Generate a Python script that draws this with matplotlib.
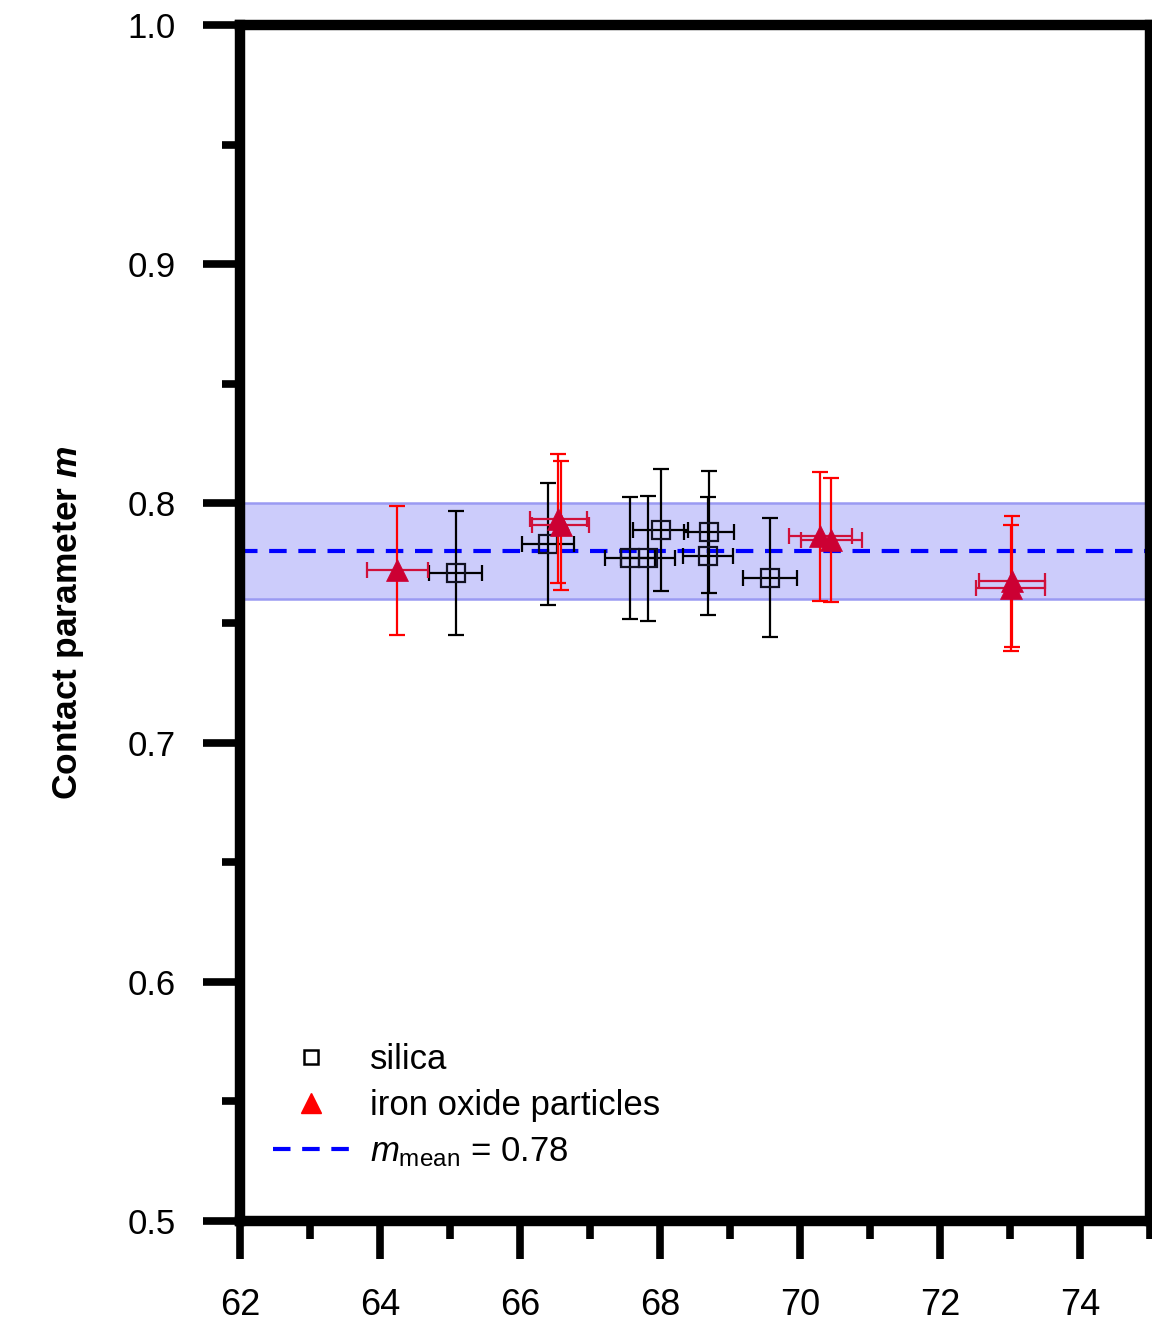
import matplotlib
matplotlib.use("Agg")
import matplotlib.pyplot as plt
from matplotlib.ticker import MultipleLocator, FixedLocator
from matplotlib.lines import Line2D

plt.rcParams['font.family'] = ['Liberation Sans', 'DejaVu Sans']
plt.rcParams['mathtext.fontset'] = 'custom'
plt.rcParams['mathtext.rm'] = 'Liberation Sans'
plt.rcParams['mathtext.it'] = 'Liberation Sans:italic'
plt.rcParams['mathtext.bf'] = 'Liberation Sans:bold'
plt.rcParams['mathtext.bfit'] = 'Liberation Sans:bold:italic'

# ---- data ----
silica_x = [65.08, 66.40, 67.57, 67.83, 68.01, 68.70, 68.69, 69.57]
silica_y = [0.771, 0.783, 0.777, 0.777, 0.789, 0.788, 0.778, 0.769]
silica_xerr = [0.38, 0.37, 0.36, 0.38, 0.39, 0.36, 0.36, 0.39]
silica_yerr = [0.026, 0.0255, 0.0255, 0.026, 0.0255, 0.0255, 0.0245, 0.025]

iron_x = [64.25, 66.55, 66.58, 70.29, 70.45, 73.03, 73.01]
iron_y = [0.772, 0.7936, 0.7908, 0.7862, 0.7848, 0.7674, 0.7646]
iron_xerr = [0.43, 0.41, 0.41, 0.45, 0.44, 0.47, 0.49]
iron_yerr = [0.027, 0.027, 0.027, 0.027, 0.026, 0.0275, 0.0265]

m_mean = 0.78
band_low, band_high = 0.76, 0.80

x_ticks = [62, 64, 66, 68, 70, 72, 74]
y_ticks = [0.5, 0.6, 0.7, 0.8, 0.9, 1.0]

# ---- figure ----
fig = plt.figure(figsize=(11.52, 13.27), dpi=100)
ax = fig.add_axes([0.2083, 0.0799, 0.7899, 0.9013])
ax.set_xlim(62, 75)
ax.set_ylim(0.5, 1.0)

# band
ax.axhspan(band_low, band_high, facecolor='#ccccfb', edgecolor='none', zorder=1)
ax.axhline(band_low, color='#9a9af2', lw=1.8, zorder=1.1)
ax.axhline(band_high, color='#9a9af2', lw=1.8, zorder=1.1)

# mean line
ax.axhline(m_mean, color='#0000ff', lw=3, dashes=(4.2, 2.8), zorder=2)

# silica
ax.errorbar(silica_x, silica_y, xerr=silica_xerr, yerr=silica_yerr, fmt='none',
            ecolor='black', elinewidth=1.6, capsize=6, capthick=1.6, zorder=3)
ax.plot(silica_x, silica_y, ls='none', marker='s', markersize=12.5,
        markerfacecolor='none', markeredgecolor='#111122', markeredgewidth=1.6, zorder=4)

# iron oxide
ax.errorbar(iron_x, iron_y, yerr=iron_yerr, fmt='none',
            ecolor='#ff0000', elinewidth=1.6, capsize=6, capthick=1.6, zorder=5)
ax.errorbar(iron_x, iron_y, xerr=iron_xerr, fmt='none',
            ecolor='#d0103a', elinewidth=1.6, capsize=6, capthick=1.6, zorder=5)
ax.plot(iron_x, iron_y, ls='none', marker='^', markersize=16,
        markerfacecolor='#cc0033', markeredgecolor='#cc0033', markeredgewidth=0.5, zorder=6)

# spines / ticks
for s in ax.spines.values():
    s.set_linewidth(7.5)
ax.xaxis.set_major_locator(FixedLocator(x_ticks))
ax.xaxis.set_minor_locator(MultipleLocator(1))
ax.yaxis.set_major_locator(FixedLocator(y_ticks))
ax.yaxis.set_minor_locator(MultipleLocator(0.05))
ax.tick_params(axis='both', which='major', direction='out', length=27, width=5.5)
ax.tick_params(axis='both', which='minor', direction='out', length=13, width=5.5)
ax.tick_params(top=False, right=False, which='both')
ax.tick_params(axis='x', which='major', labelsize=26, pad=21)
ax.tick_params(axis='y', which='major', labelsize=25, pad=19)
ax.set_xticklabels([str(v) for v in x_ticks])
ax.set_yticklabels(['%.1f' % v for v in y_ticks])

ax.set_ylabel(r'Contact parameter $\mathbfit{m}$', fontsize=25.5, fontweight='bold', labelpad=30)

# legend
handles = [
    Line2D([], [], ls='none', marker='s', markersize=10, markerfacecolor='none',
           markeredgecolor='black', markeredgewidth=1.8),
    Line2D([], [], ls='none', marker='^', markersize=14, markerfacecolor='#ff0000',
           markeredgecolor='#ff0000'),
    Line2D([], [], color='#0000ff', lw=3, dashes=(4.2, 2.8)),
]
labels = ['silica', 'iron oxide particles', r'$\mathit{m}_{\mathrm{mean}}$ = 0.78']
ax.legend(handles, labels, loc='upper left', bbox_to_anchor=(273 / 1152, 1 - 1043 / 1327),
          bbox_transform=fig.transFigure, frameon=False, fontsize=25,
          handlelength=2.2, handletextpad=0.6, labelspacing=0.38, borderpad=0,
          borderaxespad=0)

fig.savefig('out.png', dpi=100)
